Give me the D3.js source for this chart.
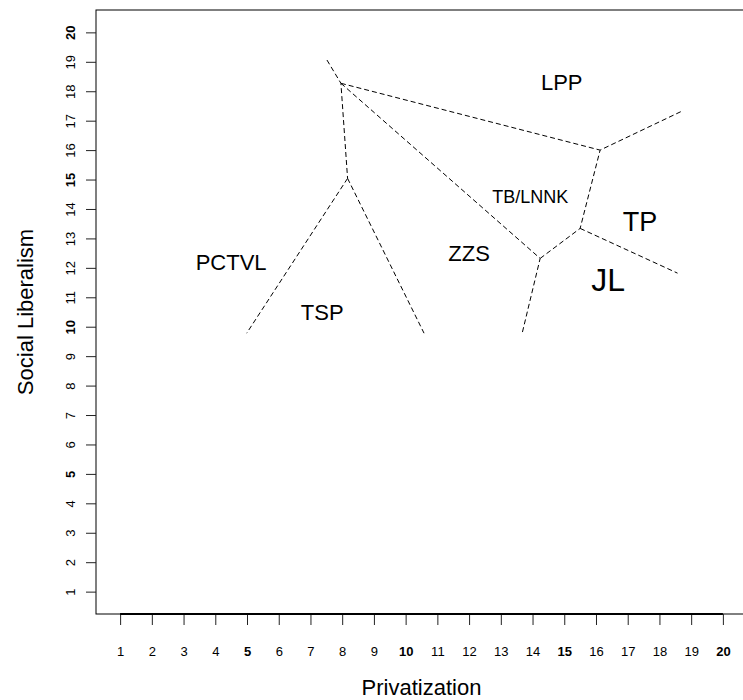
<!DOCTYPE html>
<html>
<head>
<meta charset="utf-8">
<script src="https://cdn.jsdelivr.net/npm/d3@7"></script>
<style>
  html, body { margin: 0; padding: 0; background: #fff; }
  svg { display: block; }
  text { font-family: "Liberation Sans", Arial, Helvetica, sans-serif; fill: #000; }
</style>
</head>
<body>
<svg id="chart" width="743" height="700"></svg>
<script>
// ---- data ----
const xTicks = [1,2,3,4,5,6,7,8,9,10,11,12,13,14,15,16,17,18,19,20];
const yTicks = [1,2,3,4,5,6,7,8,9,10,11,12,13,14,15,16,17,18,19,20];
const boldTicks = [5,10,15,20];

// Voronoi-like boundary segments (data coordinates)
const segA = [[7.52,19.06],[7.96,18.27],[8.17,15.04]];
const segB = [[8.17,15.04],[4.99,9.78]];
const segC = [[8.17,15.04],[10.58,9.78]];
const segD = [[7.96,18.27],[16.13,16.00],[18.74,17.34]];
const segE = [[7.96,18.27],[14.24,12.32],[13.66,9.72]];
const segF = [[14.24,12.32],[15.50,13.34],[16.13,16.00]];
const segG = [[15.50,13.34],[18.57,11.82]];
const segments = [segA, segB, segC, segD, segE, segF, segG];

const parties = ["LPP","TB/LNNK","TP","JL","ZZS","PCTVL","TSP"];
const partyX  = [14.92, 13.93, 17.39, 16.38, 12.0, 4.50, 7.37];
const partyY  = [18.28, 14.41, 13.56, 11.59, 12.50, 12.17, 10.47];
const partySize = [22, 18, 27, 32, 22, 22, 22];

const xTitle = "Privatization";
const yTitle = "Social Liberalism";

// ---- layout ----
const svg = d3.select("#chart");
const mLeft = 96, mTop = 10, mBottom = 614, mRight = 747;
const x = d3.scaleLinear().domain([0.24, 20.76]).range([mLeft, mRight]);
const y = d3.scaleLinear().domain([0.24, 20.76]).range([mBottom, mTop]);

// plot box
svg.append("rect")
  .attr("x", mLeft).attr("y", mTop)
  .attr("width", mRight - mLeft).attr("height", mBottom - mTop)
  .attr("fill", "none").attr("stroke", "#000").attr("stroke-width", 1);

// x axis
const xAxis = d3.axisBottom(x).tickValues(xTicks).tickSize(11).tickSizeOuter(0).tickPadding(0).tickFormat(d3.format("d"));
const gx = svg.append("g").attr("transform", `translate(0,${mBottom})`).call(xAxis);
gx.select(".domain").remove();
gx.append("line").attr("x1", x(1)).attr("x2", x(20)).attr("y1", 0).attr("y2", 0)
  .attr("stroke", "#000").attr("stroke-width", 2);
gx.selectAll(".tick line").attr("stroke", "#222").attr("stroke-width", 1);
gx.selectAll(".tick text")
  .attr("y", 41.5).attr("dy", null)
  .style("font-size", "13px")
  .style("font-family", '"Liberation Sans", Arial, sans-serif')
  .style("font-weight", d => boldTicks.includes(d) ? "bold" : "normal")
  .attr("fill", "#111");

// y axis
const yAxis = d3.axisLeft(y).tickValues(yTicks).tickSize(10).tickSizeOuter(0).tickPadding(0).tickFormat(d3.format("d"));
const gy = svg.append("g").attr("transform", `translate(${mLeft},0)`).call(yAxis);
gy.select(".domain").remove();
gy.selectAll(".tick line").attr("stroke", "#222").attr("stroke-width", 1);
gy.selectAll(".tick text")
  .attr("x", null).attr("dy", null)
  .attr("text-anchor", "middle")
  .attr("transform", "translate(-21,0) rotate(-90)")
  .style("font-size", "13px")
  .style("font-family", '"Liberation Sans", Arial, sans-serif')
  .style("font-weight", d => boldTicks.includes(d) ? "bold" : "normal")
  .attr("fill", "#111");

// boundary lines
const line = d3.line().x(d => x(d[0])).y(d => y(d[1]));
svg.append("g").selectAll("path").data(segments).join("path")
  .attr("d", line)
  .attr("fill", "none")
  .attr("stroke", "#000")
  .attr("stroke-width", 1)
  .attr("stroke-dasharray", "5,3");

// party labels
svg.append("g").selectAll("text").data(parties).join("text")
  .attr("x", (d, i) => x(partyX[i]))
  .attr("y", (d, i) => y(partyY[i]))
  .attr("text-anchor", "middle")
  .attr("dominant-baseline", "central")
  .style("font-size", (d, i) => partySize[i] + "px")
  .text(d => d);

// axis titles
svg.append("text")
  .attr("x", (mLeft + mRight) / 2).attr("y", 695)
  .attr("text-anchor", "middle")
  .style("font-size", "22px")
  .text(xTitle);

svg.append("text")
  .attr("transform", `translate(33,${(mTop + mBottom) / 2}) rotate(-90)`)
  .attr("text-anchor", "middle")
  .style("font-size", "22px")
  .text(yTitle);
</script>
</body>
</html>
